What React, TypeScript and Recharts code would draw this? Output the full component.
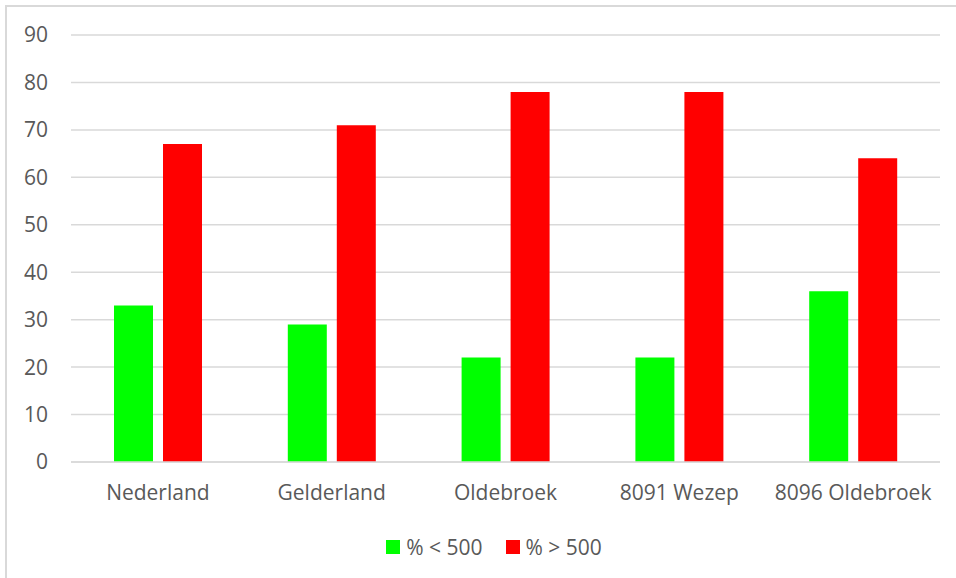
import React from 'react';
import { BarChart, Bar, XAxis, YAxis, CartesianGrid, Legend } from 'recharts';

const categories = ['Nederland', 'Gelderland', 'Oldebroek', '8091 Wezep', '8096 Oldebroek'];
const below500 = [33, 29, 22, 22, 36];
const above500 = [67, 71, 78, 78, 64];
const yTicks = [0, 10, 20, 30, 40, 50, 60, 70, 80, 90];
const seriesNames = ['% < 500', '% > 500'];
const seriesColors = ['#00FF00', '#FF0000'];

const data = categories.map((name, i) => ({ name, a: below500[i], b: above500[i] }));

const FONT = '"Open Sans", sans-serif';
const TEXT = '#595959';

const LegendContent = (props: any) => {
  const items = props.payload || [];
  return (
    <div style={{ height: 56, boxSizing: 'border-box', paddingTop: 14, paddingLeft: 48, display: 'flex', justifyContent: 'center', fontFamily: FONT, fontSize: 21, color: TEXT }}>
      {items.map((it: any, i: number) => (
        <div key={i} style={{ display: 'flex', alignItems: 'center', marginRight: i === 0 ? 23 : 0, height: 22 }}>
          <span style={{ display: 'inline-block', width: 14, height: 14, background: it.color, marginRight: 6 }} />
          <span style={{ lineHeight: '22px' }}>{it.value}</span>
        </div>
      ))}
    </div>
  );
};

export default function App() {
  return (
    <div style={{ position: 'fixed', left: 0, top: 0, width: 956, height: 578, overflow: 'hidden', background: '#fff' }}>
      <div style={{ position: 'absolute', left: 5, top: 5, width: 980, height: 600, border: '2px solid #d9d9d9', boxSizing: 'border-box' }} />
      <div style={{ position: 'absolute', left: 0, top: 0 }}>
        <BarChart width={956} height={578} data={data} margin={{ top: 35, right: 16, left: 0, bottom: 0 }} barGap={10}>
          <CartesianGrid vertical={false} stroke="#d9d9d9" strokeWidth={1.5} />
          <XAxis
            dataKey="name"
            height={60}
            tickLine={false}
            tickSize={0}
            tickMargin={23}
            axisLine={{ stroke: '#d9d9d9', strokeWidth: 1.5 }}
            tick={{ fill: TEXT, fontFamily: FONT, fontSize: 21 }}
            interval={0}
          />
          <YAxis
            width={71}
            domain={[0, 90]}
            ticks={yTicks}
            tickLine={false}
            tickSize={0}
            tickMargin={23}
            axisLine={false}
            tick={{ fill: TEXT, fontFamily: FONT, fontSize: 21 }}
          />
          <Legend verticalAlign="bottom" content={<LegendContent />} />
          <Bar dataKey="a" name={seriesNames[0]} fill={seriesColors[0]} barSize={39} isAnimationActive={false} />
          <Bar dataKey="b" name={seriesNames[1]} fill={seriesColors[1]} barSize={39} isAnimationActive={false} />
        </BarChart>
      </div>
    </div>
  );
}
